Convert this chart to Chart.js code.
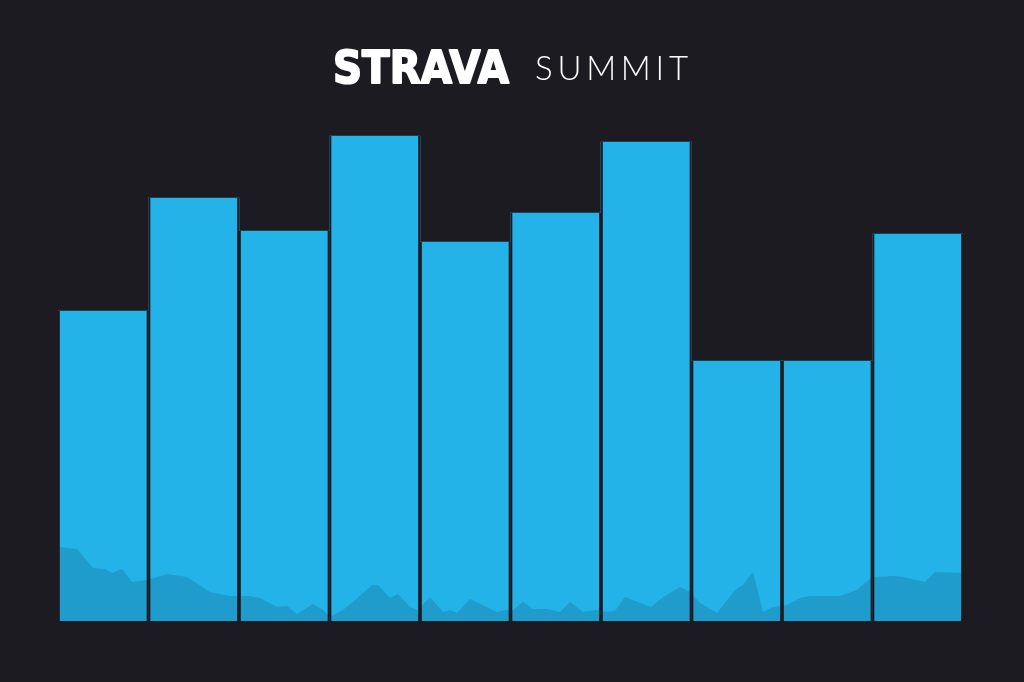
<!DOCTYPE html>
<html>
<head>
<meta charset="utf-8">
<title>Strava Summit</title>
<script src="https://cdn.jsdelivr.net/npm/chart.js@4/dist/chart.umd.min.js"></script>
<style>
  html, body { margin: 0; padding: 0; background: #1c1b21; }
  #wrap { width: 1024px; height: 682px; }
</style>
</head>
<body>
<div id="wrap"><canvas id="chart" width="1024" height="682"></canvas></div>
<script>
// bar heights (px-ish units, chart spans 0..500)
var labels = ["1", "2", "3", "4", "5", "6", "7", "8", "9", "10"];
var barValues = [310, 423, 390, 485, 379, 408, 479, 260, 260, 387];

// elevation profile along the whole row of bars
var profileDist = [0, 19, 35, 47, 54, 64, 74, 89, 109, 129, 152, 172, 192, 202, 219, 229, 239, 255, 265, 272,
    285, 295, 314, 320, 332, 340, 352, 360, 372, 385, 392, 399, 412, 439, 449, 455, 465, 475, 489, 502,
    512, 525, 539, 549, 557, 567, 577, 593, 604, 622, 632, 642, 659, 677, 685, 695, 705, 715, 729, 742,
    752, 782, 799, 814, 835, 845, 867, 877, 905];
var profileElev = [74, 72, 53, 52, 48, 52, 39, 41, 47, 44, 29, 25, 25, 23, 14, 15, 7, 17, 11, 4,
    11, 19, 36, 36, 23, 27, 14, 11, 24, 9, 11, 8, 22, 9, 11, 11, 19, 12, 12, 9,
    19, 9, 11, 9, 10, 24, 20, 14, 23, 34, 29, 18, 8, 31, 36, 49, 9, 14, 16, 23,
    25, 25, 31, 44, 45, 44, 39, 49, 48];

var BG = '#1c1b21';
var BAR = '#23b3e8';
var PROFILE = '#1f9bcc';

var profilePoints = [];
for (var i = 0; i < profileDist.length; i++) {
    profilePoints.push({x: profileDist[i], y: profileElev[i]});
}

// background + logo text
var brand = {
    id: 'brand',
    beforeDraw: function(chart) {
        var ctx = chart.ctx;
        ctx.save();
        ctx.fillStyle = BG;
        ctx.fillRect(0, 0, chart.width, chart.height);
        ctx.restore();
    },
    afterDraw: function(chart) {
        var ctx = chart.ctx;
        ctx.save();
        ctx.fillStyle = '#ffffff';
        ctx.strokeStyle = '#ffffff';
        ctx.lineWidth = 2;
        ctx.lineJoin = 'round';
        ctx.textBaseline = 'alphabetic';
        ctx.textAlign = 'left';

        // STRAVA, squeezed to 178px wide
        ctx.font = 'bold 45px "DejaVu Sans"';
        var w = ctx.measureText('STRAVA').width;
        ctx.translate(333, 83);
        ctx.scale(176 / w, 1);
        ctx.fillText('STRAVA', 0, 0);
        ctx.strokeText('STRAVA', 0, 0);
        ctx.restore();

        // SUMMIT, letter spaced to 153px wide
        ctx.save();
        ctx.fillStyle = '#ffffff';
        ctx.font = '300 33px Lato';
        var word = 'SUMMIT';
        var total = 0;
        for (var k = 0; k < word.length; k++) total += ctx.measureText(word[k]).width;
        var gap = (153 - total) / (word.length - 1);
        var x = 535;
        for (var k = 0; k < word.length; k++) {
            ctx.fillText(word[k], x, 80);
            x += ctx.measureText(word[k]).width + gap;
        }
        ctx.restore();
    }
};

new Chart(document.getElementById("chart"), {
    type: 'bar',
    data: {
        labels: labels,
        datasets: [{
            label: "bars",
            data: barValues,
            backgroundColor: BAR,
            borderWidth: 0,
            barPercentage: 1,
            categoryPercentage: 1,
            grouped: false,
            order: 3
        }, {
            type: 'line',
            label: "profile",
            data: profilePoints,
            xAxisID: 'xp',
            backgroundColor: PROFILE,
            borderWidth: 0,
            pointRadius: 0,
            tension: 0,
            fill: 'origin',
            order: 2
        }, {
            label: "gaps",
            data: barValues,
            backgroundColor: 'rgba(0,0,0,0)',
            borderColor: BG,
            borderWidth: {left: 1.5, right: 1.5, top: 0, bottom: 0},
            borderSkipped: false,
            barPercentage: 1,
            categoryPercentage: 1,
            grouped: false,
            order: 1
        }]
    },
    options: {
        responsive: false,
        animation: false,
        layout: {
            padding: {left: 58, right: 61, top: 121, bottom: 61}
        },
        plugins: {
            legend: {display: false},
            tooltip: {enabled: false},
            title: {display: false}
        },
        scales: {
            x: {display: false},
            xp: {type: 'linear', display: false, offset: false, min: 0, max: 905},
            y: {display: false, min: 0, max: 500}
        }
    },
    plugins: [brand]
});
</script>
</body>
</html>
